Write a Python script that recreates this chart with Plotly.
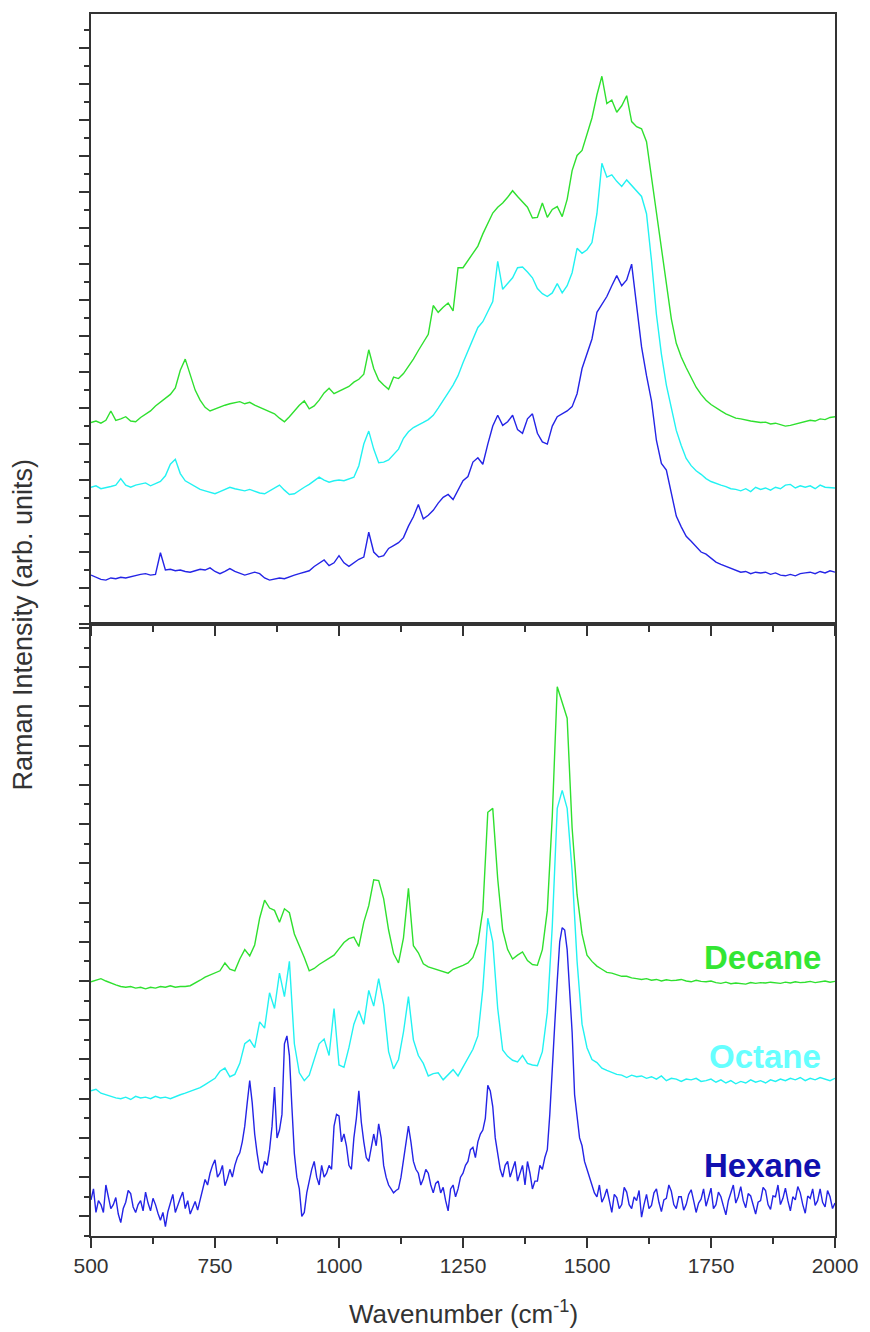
import plotly.graph_objects as go

# Raman shift grid (cm^-1), 10 cm^-1 steps from 500 to 2000
wavenumber = list(range(500, 2001, 10))
# finer 5 cm^-1 grid used for the noisy hexane trace of the lower panel
wavenumber_fine = list(range(500, 2001, 5))

# ---- upper panel spectra (offset for display) ----
top_decane = [
    5.60, 5.64, 5.58, 5.66, 5.92, 5.66, 5.70, 5.76, 5.64, 5.62,
    5.74, 5.82, 5.92, 6.06, 6.16, 6.26, 6.38, 6.56, 7.05, 7.36,
    6.92, 6.50, 6.22, 6.02, 5.92, 5.98, 6.04, 6.08, 6.12, 6.16,
    6.18, 6.12, 6.16, 6.08, 6.02, 5.96, 5.92, 5.84, 5.72, 5.62,
    5.76, 5.92, 6.08, 6.20, 5.98, 6.06, 6.22, 6.42, 6.55, 6.40,
    6.46, 6.52, 6.60, 6.72, 6.80, 6.94, 7.62, 7.10, 6.78, 6.64,
    6.52, 6.86, 6.82, 6.96, 7.16, 7.36, 7.60, 7.82, 8.05, 8.85,
    8.66, 8.80, 8.92, 8.70, 9.90, 9.90, 10.10, 10.30, 10.50, 10.84,
    11.12, 11.42, 11.58, 11.70, 11.86, 12.04, 11.88, 11.74, 11.58, 11.28,
    11.30, 11.70, 11.30, 11.52, 11.60, 11.32, 11.80, 12.60, 13.02, 13.16,
    13.62, 14.06, 14.70, 15.22, 14.46, 14.56, 14.22, 14.40, 14.68, 13.96,
    13.82, 13.76, 13.40, 12.40, 11.40, 10.50, 9.40, 8.48, 7.80, 7.42,
    7.12, 6.86, 6.58, 6.38, 6.22, 6.10, 6.00, 5.92, 5.84, 5.78,
    5.72, 5.70, 5.66, 5.64, 5.62, 5.60, 5.61, 5.56, 5.58, 5.54,
    5.50, 5.52, 5.56, 5.58, 5.62, 5.66, 5.64, 5.70, 5.68, 5.74,
    5.76,
]
top_octane = [
    3.80, 3.84, 3.76, 3.78, 3.82, 3.86, 4.04, 3.86, 3.80, 3.86,
    3.90, 3.92, 3.84, 3.90, 3.96, 4.12, 4.44, 4.58, 4.18, 3.98,
    3.90, 3.80, 3.74, 3.70, 3.66, 3.62, 3.68, 3.74, 3.80, 3.76,
    3.72, 3.70, 3.74, 3.68, 3.64, 3.62, 3.70, 3.80, 3.86, 3.72,
    3.60, 3.62, 3.72, 3.80, 3.88, 3.98, 4.08, 4.00, 3.94, 3.98,
    4.00, 3.98, 4.04, 4.08, 4.40, 5.00, 5.36, 4.86, 4.48, 4.50,
    4.56, 4.70, 4.86, 5.16, 5.34, 5.46, 5.52, 5.60, 5.68, 5.80,
    6.00, 6.20, 6.42, 6.64, 6.90, 7.26, 7.60, 7.94, 8.24, 8.40,
    8.70, 8.96, 10.08, 9.30, 9.46, 9.62, 9.90, 9.92, 9.78, 9.62,
    9.32, 9.18, 9.10, 9.20, 9.46, 9.20, 9.40, 9.76, 10.44, 10.30,
    10.40, 10.60, 11.40, 12.80, 12.42, 12.48, 12.30, 12.16, 12.34, 12.18,
    12.04, 11.88, 11.40, 10.10, 8.60, 7.50, 6.64, 5.96, 5.38, 4.96,
    4.60, 4.40, 4.26, 4.16, 4.04, 3.96, 3.90, 3.86, 3.82, 3.76,
    3.74, 3.70, 3.76, 3.68, 3.80, 3.74, 3.78, 3.72, 3.80, 3.76,
    3.86, 3.88, 3.78, 3.84, 3.80, 3.84, 3.76, 3.86, 3.80, 3.78,
    3.78,
]
top_hexane = [
    1.36, 1.30, 1.24, 1.22, 1.28, 1.26, 1.30, 1.28, 1.32, 1.34,
    1.38, 1.40, 1.36, 1.38, 1.98, 1.50, 1.52, 1.48, 1.50, 1.46,
    1.44, 1.48, 1.52, 1.50, 1.56, 1.46, 1.40, 1.46, 1.54, 1.46,
    1.40, 1.36, 1.40, 1.44, 1.40, 1.28, 1.22, 1.26, 1.28, 1.26,
    1.32, 1.36, 1.40, 1.44, 1.48, 1.60, 1.70, 1.78, 1.62, 1.70,
    1.90, 1.70, 1.60, 1.70, 1.80, 1.86, 2.55, 2.00, 1.86, 1.90,
    2.10, 2.18, 2.26, 2.40, 2.72, 2.98, 3.32, 2.92, 3.02, 3.16,
    3.36, 3.52, 3.60, 3.46, 3.70, 3.98, 4.10, 4.50, 4.62, 4.44,
    5.00, 5.50, 5.80, 5.52, 5.62, 5.80, 5.40, 5.30, 5.70, 5.84,
    5.30, 5.06, 5.00, 5.50, 5.76, 5.84, 5.92, 6.04, 6.40, 7.10,
    7.50, 7.92, 8.66, 8.90, 9.10, 9.40, 9.68, 9.40, 9.56, 10.00,
    8.90, 7.70, 6.90, 6.20, 5.10, 4.46, 4.28, 3.60, 3.00, 2.70,
    2.44, 2.30, 2.14, 2.00, 1.94, 1.82, 1.72, 1.66, 1.60, 1.54,
    1.48, 1.44, 1.46, 1.40, 1.44, 1.42, 1.44, 1.38, 1.42, 1.36,
    1.34, 1.38, 1.34, 1.40, 1.42, 1.44, 1.40, 1.46, 1.42, 1.48,
    1.44,
]

# ---- lower panel spectra (offset for display) ----
bot_decane = [
    5.98, 6.02, 6.06, 6.00, 5.94, 5.90, 5.86, 5.84, 5.86, 5.82,
    5.84, 5.80, 5.84, 5.82, 5.86, 5.84, 5.88, 5.84, 5.86, 5.86,
    5.88, 5.94, 6.02, 6.10, 6.16, 6.20, 6.26, 6.46, 6.30, 6.26,
    6.56, 6.80, 6.64, 6.92, 7.60, 8.06, 7.86, 7.80, 7.50, 7.84,
    7.74, 7.20, 6.92, 6.60, 6.26, 6.32, 6.42, 6.50, 6.58, 6.66,
    6.82, 6.98, 7.08, 7.12, 6.88, 7.50, 7.92, 8.58, 8.56, 8.10,
    7.30, 6.70, 6.46, 7.10, 8.36, 6.90, 6.72, 6.44, 6.36, 6.32,
    6.28, 6.24, 6.20, 6.30, 6.34, 6.40, 6.46, 6.60, 6.96, 7.80,
    10.30, 10.40, 8.60, 7.30, 6.80, 6.56, 6.66, 6.74, 6.52, 6.42,
    6.40, 6.80, 7.80, 10.20, 13.50, 13.10, 12.70, 9.90, 8.20, 7.20,
    6.66, 6.50, 6.38, 6.30, 6.22, 6.20, 6.16, 6.12, 6.12, 6.08,
    6.06, 6.04, 6.06, 6.02, 6.04, 6.00, 6.03, 6.01, 6.02, 6.04,
    6.00, 5.98, 6.02, 5.99, 5.98, 6.00, 5.96, 5.94, 5.97, 5.93,
    5.95, 5.94, 5.92, 5.96, 5.94, 5.96, 5.95, 5.97, 5.96, 5.94,
    5.97, 5.95, 5.98, 5.96, 5.97, 5.99, 5.96, 5.98, 6.00, 5.97,
    5.99,
]
bot_octane = [
    3.20, 3.24, 3.14, 3.10, 3.06, 3.02, 3.00, 3.04, 2.98, 3.06,
    3.02, 3.04, 3.00, 3.06, 3.02, 3.04, 3.00, 3.06, 3.10, 3.14,
    3.18, 3.22, 3.28, 3.36, 3.44, 3.52, 3.70, 3.78, 3.56, 3.62,
    3.90, 4.40, 4.50, 4.30, 4.96, 4.80, 5.70, 5.30, 6.20, 5.60,
    6.50, 4.40, 3.66, 3.46, 3.60, 4.00, 4.40, 4.52, 4.10, 5.30,
    3.86, 3.80, 4.30, 4.90, 5.24, 4.90, 5.76, 5.36, 6.06, 5.40,
    4.20, 3.76, 4.00, 4.70, 5.60, 4.50, 4.10, 3.90, 3.58, 3.64,
    3.66, 3.48, 3.62, 3.74, 3.58, 3.82, 4.06, 4.26, 4.60, 5.80,
    7.60, 7.00, 5.30, 4.24, 4.08, 3.98, 3.94, 4.10, 3.90, 3.86,
    3.84, 4.20, 5.20, 7.40, 10.40, 10.86, 10.40, 8.80, 6.50, 4.90,
    4.30, 4.00, 3.92, 3.78, 3.72, 3.66, 3.62, 3.60, 3.54, 3.60,
    3.56, 3.58, 3.52, 3.56, 3.50, 3.58, 3.46, 3.52, 3.50, 3.44,
    3.50, 3.48, 3.52, 3.44, 3.46, 3.50, 3.42, 3.48, 3.40, 3.46,
    3.38, 3.44, 3.40, 3.48, 3.42, 3.46, 3.40, 3.48, 3.44, 3.50,
    3.46, 3.52, 3.48, 3.54, 3.46, 3.52, 3.48, 3.54, 3.50, 3.46,
    3.52,
]
bot_hexane = [
    0.42, 0.70, 0.10, 0.40, 0.30, 0.10, 0.80, 0.50, 0.20, 0.30,
    0.48, 0.06, -0.16, 0.20, 0.36, 0.66, 0.58, 0.24, 0.10, 0.30,
    0.40, 0.14, 0.62, 0.34, 0.14, 0.46, 0.30, 0.08, -0.10, 0.10,
    -0.26, 0.12, 0.34, 0.56, 0.10, 0.30, 0.46, 0.62, 0.20, 0.40,
    0.06, 0.22, 0.38, 0.16, 0.40, 0.70, 0.94, 0.80, 1.10, 1.30,
    1.44, 1.00, 1.10, 1.30, 0.78, 0.96, 1.20, 1.00, 1.30, 1.50,
    1.62, 1.90, 2.30, 2.90, 3.46, 2.90, 2.10, 1.60, 1.20, 1.10,
    1.40, 1.30, 1.70, 2.30, 3.30, 2.00, 2.20, 2.60, 4.40, 4.60,
    4.10, 2.80, 1.60, 1.00, 0.70, 0.00, 0.10, 0.60, 0.90, 1.20,
    1.40, 1.00, 0.80, 1.30, 1.00, 1.10, 1.30, 1.20, 2.30, 2.60,
    2.56, 1.90, 2.10, 1.80, 1.30, 1.20, 2.00, 2.50, 3.20, 2.40,
    1.90, 1.50, 1.40, 1.80, 2.10, 1.80, 2.36, 2.00, 1.30, 1.00,
    0.80, 0.70, 0.60, 0.66, 0.70, 1.00, 1.40, 1.90, 2.30, 1.90,
    1.40, 1.20, 1.10, 0.80, 0.96, 1.20, 1.10, 0.80, 0.60, 0.84,
    0.90, 0.60, 0.74, 0.40, 0.14, 0.70, 0.80, 0.50, 0.70, 1.00,
    1.10, 1.30, 1.40, 1.70, 1.76, 1.50, 1.90, 2.10, 2.20, 2.50,
    3.34, 3.20, 2.80, 2.00, 1.60, 1.20, 1.00, 1.30, 1.40, 1.00,
    1.20, 1.40, 0.90, 1.10, 1.30, 0.80, 1.40, 1.10, 0.70, 0.90,
    0.90, 1.30, 1.20, 1.50, 1.70, 2.60, 3.60, 4.90, 6.00, 7.00,
    7.36, 7.30, 6.80, 5.80, 4.70, 3.10, 2.60, 2.00, 1.80, 1.40,
    1.20, 1.00, 0.86, 0.60, 0.50, 0.80, 0.36, 0.50, 0.70, 0.40,
    0.10, 0.56, 0.48, 0.20, 0.30, 0.74, 0.62, 0.30, 0.20, 0.50,
    0.40, 0.66, -0.02, 0.30, 0.56, 0.20, 0.28, 0.60, 0.70, 0.36,
    0.12, 0.42, 0.46, 0.80, 0.64, 0.30, 0.20, 0.50, 0.50, 0.16,
    0.30, 0.56, 0.68, 0.40, 0.10, 0.34, 0.44, 0.70, 0.26, 0.48,
    0.72, 0.20, 0.30, 0.62, 0.50, 0.26, 0.04, 0.40, 0.60, 0.80,
    0.34, 0.50, 0.76, 0.40, 0.22, 0.58, 0.52, 0.30, 0.06, 0.36,
    0.40, 0.74, 0.66, 0.30, 0.18, 0.52, 0.50, 0.80, 0.30, 0.46,
    0.72, 0.40, 0.14, 0.50, 0.42, 0.76, 0.60, 0.30, 0.08, 0.52,
    0.46, 0.70, 0.28, 0.40, 0.70, 0.36, 0.24, 0.66, 0.50, 0.20,
    0.34,
]

x_ticks = [500, 750, 1000, 1250, 1500, 1750, 2000]
labels = ["Decane", "Octane", "Hexane"]

line_colors = {"Decane": "#2fe02f", "Octane": "#22f2f2", "Hexane": "#2424e6"}
label_colors = {"Decane": "#33e633", "Octane": "#66ffff", "Hexane": "#1010b0"}

AXIS = "#333333"
FONT = "Liberation Sans, Arial, sans-serif"
LINE_W = 1.4

fig = go.Figure()

top_series = [("Hexane", wavenumber, top_hexane),
              ("Octane", wavenumber, top_octane),
              ("Decane", wavenumber, top_decane)]
bot_series = [("Hexane", wavenumber_fine, bot_hexane),
              ("Octane", wavenumber, bot_octane),
              ("Decane", wavenumber, bot_decane)]

for name, xs, vals in top_series:
    fig.add_trace(go.Scatter(x=xs, y=vals, mode="lines", xaxis="x2", yaxis="y2",
                             line=dict(color=line_colors[name], width=LINE_W),
                             showlegend=False, hoverinfo="skip"))
for name, xs, vals in bot_series:
    fig.add_trace(go.Scatter(x=xs, y=vals, mode="lines", xaxis="x", yaxis="y",
                             line=dict(color=line_colors[name], width=LINE_W),
                             showlegend=False, hoverinfo="skip"))

split = 0.5008

common_x = dict(range=[500, 2000], showline=True, linecolor=AXIS, linewidth=2, mirror=True,
                ticks="outside", ticklen=10, tickwidth=2, tickcolor=AXIS,
                tickvals=x_ticks, showgrid=False, zeroline=False,
                minor=dict(ticks="outside", ticklen=6, tickwidth=2, tickcolor=AXIS,
                           dtick=125, tick0=500, showgrid=False))
common_y = dict(showline=True, linecolor=AXIS, linewidth=2, mirror=True,
                ticks="outside", ticklen=10, tickwidth=2, tickcolor=AXIS,
                showticklabels=False, showgrid=False, zeroline=False,
                tick0=0, dtick=1,
                minor=dict(ticks="outside", ticklen=5, tickwidth=2, tickcolor=AXIS,
                           dtick=0.5, showgrid=False))

fig.update_layout(
    width=870, height=1332,
    margin=dict(l=91, r=29, t=14, b=96),
    paper_bgcolor="white", plot_bgcolor="white",
    font=dict(family=FONT, color=AXIS),
    xaxis=dict(common_x, anchor="y", domain=[0, 1],
               tickfont=dict(family=FONT, size=21, color=AXIS)),
    yaxis=dict(common_y, anchor="x", domain=[0, split], range=[-0.5, 15.1]),
    xaxis2=dict(common_x, anchor="y2", domain=[0, 1], matches="x", showticklabels=False),
    yaxis2=dict(common_y, anchor="x2", domain=[split, 1], range=[0, 16.95]),
)

# axis titles
fig.add_annotation(text="Wavenumber (cm<sup>-1</sup>)", xref="paper", yref="paper",
                   x=0.5, y=-0.0622, xanchor="center", yanchor="middle", showarrow=False,
                   font=dict(family=FONT, size=26, color=AXIS))
fig.add_annotation(text="Raman Intensity (arb. units)", xref="paper", yref="paper",
                   x=-0.092, y=0.5, xanchor="center", yanchor="middle", showarrow=False,
                   textangle=-90, font=dict(family=FONT, size=27, color=AXIS))

# sample labels in the lower panel
label_y = {"Decane": 0.2283, "Octane": 0.1465, "Hexane": 0.0581}
for name in labels:
    fig.add_annotation(text="<b>%s</b>" % name, xref="paper", yref="paper",
                       x=0.984, y=label_y[name], xanchor="right", yanchor="middle",
                       showarrow=False,
                       font=dict(family=FONT, size=33, color=label_colors[name]))

fig.write_html("out.html")
